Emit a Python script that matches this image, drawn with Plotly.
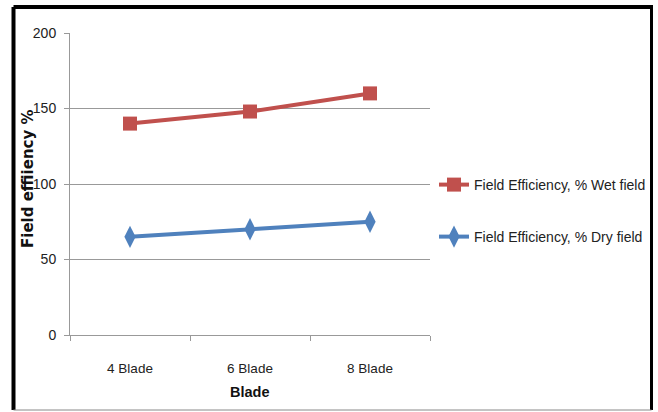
import plotly.graph_objects as go

categories = ["4 Blade", "6 Blade", "8 Blade"]
wet_field = [140, 148, 160]
dry_field = [65, 70, 75]
y_ticks = [0, 50, 100, 150, 200]

SANS = "Liberation Sans, Arial, sans-serif"
PLOT_W = 360   # plot area width in px (x from 70 to 430)
PLOT_H = 302   # plot area height in px (y from 33 to 335)


def px_x(px):
    """Pixel column to paper x."""
    return (px - 70) / PLOT_W


def px_y(px):
    """Pixel row to paper y."""
    return (335 - px) / PLOT_H


fig = go.Figure()
fig.add_trace(go.Scatter(
    x=categories, y=wet_field, mode="lines+markers",
    name="Field Efficiency, % Wet field", legend="legend",
    line=dict(color="#C0504D", width=4),
    marker=dict(symbol="square", size=14, color="#C0504D"),
))
fig.add_trace(go.Scatter(
    x=categories, y=dry_field, mode="lines+markers",
    name="Field Efficiency, % Dry field", legend="legend2",
    line=dict(color="#4F81BD", width=4),
    marker=dict(symbol="diamond-tall", size=16, color="#4F81BD"),
))

legend_style = dict(xanchor="left", yanchor="middle",
                    font=dict(family=SANS, size=14, color="#222"),
                    itemwidth=30, bgcolor="rgba(0,0,0,0)", borderwidth=0)

fig.update_layout(
    width=658, height=412,
    margin=dict(l=70, r=228, t=33, b=77, autoexpand=False),
    paper_bgcolor="white", plot_bgcolor="white",
    font=dict(family=SANS, size=13, color="#222"),
    showlegend=True,
    legend=dict(x=px_x(434), y=px_y(185), **legend_style),
    legend2=dict(x=px_x(434), y=px_y(237), **legend_style),
    xaxis=dict(
        type="category", range=[-0.5, 2.5],
        showline=True, linecolor="#999", linewidth=1,
        ticks="outside", ticklen=5, tickcolor="#999",
        tickson="boundaries", showgrid=False,
        ticklabelstandoff=21,
        tickfont=dict(family=SANS, size=13.5, color="#222"),
    ),
    yaxis=dict(
        range=[0, 200], tickvals=y_ticks,
        showline=True, linecolor="#999", linewidth=1,
        ticks="outside", ticklen=5, tickcolor="#999",
        showgrid=True, gridcolor="#999", gridwidth=1,
        zeroline=False, ticklabelstandoff=5,
        tickfont=dict(family=SANS, size=14, color="#222"),
    ),
)

# axis titles
fig.add_annotation(text="<b>Blade</b>", xref="paper", yref="paper",
                   x=px_x(250), y=px_y(392), showarrow=False,
                   xanchor="center", yanchor="middle",
                   font=dict(family=SANS, size=14.5, color="#111"))
fig.add_annotation(text="<b>Field effiiency %</b>", xref="paper", yref="paper",
                   x=px_x(28), y=px_y(179), showarrow=False, textangle=-90,
                   xanchor="center", yanchor="middle",
                   font=dict(family="DejaVu Sans, sans-serif", size=15, color="#111"))

# outer frame around the chart
frame = [
    (13.5, 7, 653, 7, "black", 4),        # top
    (13.5, 7, 13.5, 410, "black", 4),     # left
    (651.5, 7, 651.5, 410, "black", 3),   # right
    (13.5, 410, 651.5, 410, "#888", 1),   # bottom
]
for x0, y0, x1, y1, c, w in frame:
    fig.add_shape(type="line", xref="paper", yref="paper",
                  x0=px_x(x0), y0=px_y(y0), x1=px_x(x1), y1=px_y(y1),
                  line=dict(color=c, width=w))

fig.write_html("out.html")
